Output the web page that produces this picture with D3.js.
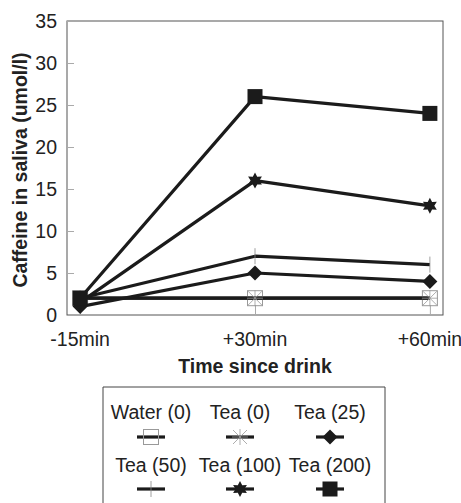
<!DOCTYPE html>
<html>
<head>
<meta charset="utf-8">
<script src="https://cdn.jsdelivr.net/npm/d3@7"></script>
<style>
  html, body { margin: 0; padding: 0; background: #fff; }
  svg { display: block; font-family: "Liberation Sans", Arial, sans-serif; }
</style>
</head>
<body>
<svg id="chart" width="461" height="503"></svg>
<script>
// Time points after the drink
const times = ["-15min", "+30min", "+60min"];

// Caffeine in saliva (umol/l) per drink
const waterZero = [2, 2, 2];
const teaZero   = [2, 2, 2];
const tea25     = [1, 5, 4];
const tea50     = [2, 7, 6];
const tea100    = [1.5, 16, 13];
const tea200    = [2, 26, 24];

const seriesNames = ["Water (0)", "Tea (0)", "Tea (25)", "Tea (50)", "Tea (100)", "Tea (200)"];
const seriesMarkers = ["boxX", "asterisk", "diamond", "plus", "star6", "square"];
const seriesValues = [waterZero, teaZero, tea25, tea50, tea100, tea200];

const yTicks = [0, 5, 10, 15, 20, 25, 30, 35];

const svg = d3.select("#chart");
const plot = { left: 67, right: 443, top: 21, bottom: 315 };

const x = d3.scalePoint().domain(times).range([plot.left, plot.right]).padding(0.075);
const y = d3.scaleLinear().domain([0, 35]).range([plot.bottom, plot.top]);

const ink = "#1b1b1b";
const textInk = "#222";

// Plot frame
svg.append("rect")
  .attr("x", plot.left).attr("y", plot.top)
  .attr("width", plot.right - plot.left).attr("height", plot.bottom - plot.top)
  .attr("fill", "none").attr("stroke", "#555").attr("stroke-width", 1);

// Y axis: ticks point inward, labels to the left
const yAxis = svg.append("g")
  .attr("transform", `translate(${plot.left},0)`)
  .call(d3.axisRight(y).tickValues(yTicks).tickSize(7).tickFormat(""));
yAxis.select(".domain").remove();
yAxis.selectAll(".tick line").attr("stroke", "#aaa");

svg.append("g").selectAll("text").data(yTicks).join("text")
  .attr("x", 57).attr("y", d => y(d)).attr("dy", "0.36em")
  .attr("text-anchor", "end").attr("font-size", 19.5).attr("fill", textInk)
  .text(d => d);

// X axis: inward ticks, labels below
const xAxis = svg.append("g")
  .attr("transform", `translate(0,${plot.bottom})`)
  .call(d3.axisTop(x).tickSize(10).tickFormat(""));
xAxis.select(".domain").remove();
xAxis.selectAll(".tick line").attr("stroke", "#aaa");

svg.append("g").selectAll("text").data(times).join("text")
  .attr("x", d => x(d)).attr("y", 339).attr("dy", "0.36em")
  .attr("text-anchor", "middle").attr("font-size", 19.5).attr("fill", textInk)
  .text(d => d);

// Axis titles
svg.append("text")
  .attr("transform", `translate(27,${(plot.top + plot.bottom) / 2 + 2}) rotate(-90)`)
  .attr("text-anchor", "middle").attr("font-size", 19.5).attr("font-weight", "bold")
  .attr("fill", textInk)
  .text("Caffeine in saliva (umol/l)");

svg.append("text")
  .attr("x", 255).attr("y", 366).attr("dy", "0.36em")
  .attr("text-anchor", "middle").attr("font-size", 19.5).attr("font-weight", "bold")
  .attr("fill", textInk)
  .text("Time since drink");

// Marker drawing
const star6 = (() => {
  const pts = [];
  for (let i = 0; i < 12; i++) {
    const r = i % 2 === 0 ? 8 : 4.4;
    const a = -Math.PI / 2 + i * Math.PI / 6;
    pts.push([r * Math.cos(a), r * Math.sin(a)]);
  }
  return "M" + pts.map(p => p.join(",")).join("L") + "Z";
})();

function drawMarker(g, type) {
  if (type === "boxX") {
    g.append("rect").attr("x", -7.5).attr("y", -7.5).attr("width", 15).attr("height", 15)
      .attr("fill", "none").attr("stroke", "#999").attr("stroke-width", 1);
  } else if (type === "asterisk") {
    [[-7, -7, 7, 7], [-7, 7, 7, -7], [0, -8, 0, 8], [-8, 0, 8, 0]].forEach(l => {
      g.append("line").attr("x1", l[0]).attr("y1", l[1]).attr("x2", l[2]).attr("y2", l[3])
        .attr("stroke", "#999").attr("stroke-width", 0.8);
    });
  } else if (type === "diamond") {
    g.append("path").attr("d", "M0,-7.5L7.5,0L0,7.5L-7.5,0Z").attr("fill", ink);
  } else if (type === "plus") {
    g.append("line").attr("x1", 0).attr("y1", -8).attr("x2", 0).attr("y2", 8)
      .attr("stroke", "#888").attr("stroke-width", 0.8);
  } else if (type === "star6") {
    g.append("path").attr("d", star6).attr("fill", ink);
  } else if (type === "square") {
    g.append("rect").attr("x", -7.5).attr("y", -7.5).attr("width", 15).attr("height", 15)
      .attr("fill", ink);
  }
}

const line = d3.line().x((d, i) => x(times[i])).y(d => y(d));

const seriesG = svg.append("g");
seriesValues.forEach((vals, si) => {
  const g = seriesG.append("g");
  g.append("path").attr("d", line(vals))
    .attr("fill", "none").attr("stroke", ink).attr("stroke-width", 3.2)
    .attr("stroke-linejoin", "round");
  g.selectAll("g.m").data(vals).join("g").attr("class", "m")
    .attr("transform", (d, i) => `translate(${x(times[i])},${y(d)})`)
    .each(function () { drawMarker(d3.select(this), seriesMarkers[si]); });
});

// Legend
const legend = svg.append("g");
legend.append("path")
  .attr("d", "M103,520V387H385V520")
  .attr("fill", "none").attr("stroke", "#444").attr("stroke-width", 1);

const colX = [151, 240, 330];
const rowText = [412, 465];
const rowMark = [437, 489];

seriesNames.forEach((name, i) => {
  const c = i % 3, r = Math.floor(i / 3);
  legend.append("text")
    .attr("x", colX[c]).attr("y", rowText[r]).attr("dy", "0.36em")
    .attr("text-anchor", "middle").attr("font-size", 19.5).attr("fill", textInk)
    .text(name);
  const mg = legend.append("g").attr("transform", `translate(${colX[c]},${rowMark[r]})`);
  mg.append("line").attr("x1", -14).attr("x2", 14).attr("y1", 0).attr("y2", 0)
    .attr("stroke", ink).attr("stroke-width", 3.2);
  drawMarker(mg, seriesMarkers[i]);
});
</script>
</body>
</html>
